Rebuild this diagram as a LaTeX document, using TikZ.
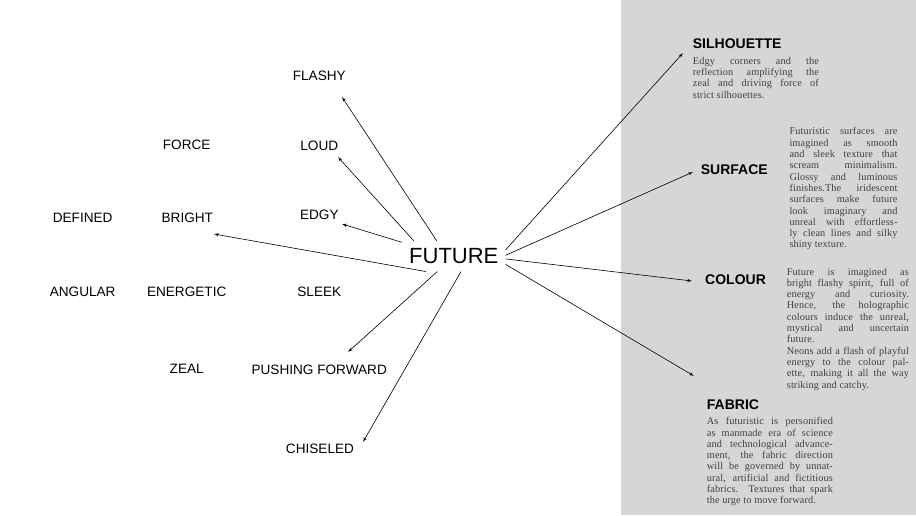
\documentclass[tikz,border=0pt]{standalone}
\usepackage{fontspec}
\setmainfont{Liberation Sans}
\newfontfamily\notefont[LetterSpace=1]{Liberation Serif}
\usetikzlibrary{arrows}
\definecolor{panelgray}{HTML}{D6D6D6}
\definecolor{notegray}{HTML}{404040}
\setlength{\parindent}{0pt}
\hyphenpenalty=10000
\tolerance=10000
\begin{document}
\begin{tikzpicture}[x=1pt,y=-1pt]
		\tikzset{word/.style = {font=\fontsize{13.6}{16}\selectfont}}
		\tikzset{head/.style = {font=\bfseries\fontsize{14}{16}\selectfont, anchor=west, inner sep=0pt}}
		\tikzset{note/.style = {font=\notefont\fontsize{10.3}{11.3}\selectfont, text=notegray, align=justify, anchor=north west, inner sep=0pt}}
		\tikzset{edge/.style = {->,> = latex', line width=0.6pt}}
		\useasboundingbox (0,0) rectangle (916,515);
		\fill[panelgray] (621,0) rectangle (916,515);
		% centre word
		\node[font=\fontsize{22}{26}\selectfont, inner xsep=7pt, inner ysep=7.5pt] (future) at (453.8,256.2) {FUTURE};
		% left words
		\node[word] (flashy) at (319.3,76) {FLASHY};
		\node[word] (loud) at (319.3,146) {LOUD};
		\node[word] (edgy) at (319.3,215) {EDGY};
		\node[word] (sleek) at (319.3,292.3) {SLEEK};
		\node[word] (pushing) at (319.2,370) {PUSHING FORWARD};
		\node[word] (chiseled) at (320,449.3) {CHISELED};
		\node[word] (force) at (186.7,145) {FORCE};
		\node[word] (bright) at (187.3,218.3) {BRIGHT};
		\node[word] (energetic) at (186.7,291.7) {ENERGETIC};
		\node[word] (zeal) at (186.7,369.3) {ZEAL};
		\node[word] (defined) at (82.7,218.3) {DEFINED};
		\node[word] (angular) at (82.7,291.7) {ANGULAR};
		% right headings
		\node[head] (silhouette) at (692.7,43.3) {SILHOUETTE};
		\node[head] (surface) at (700.7,170) {SURFACE};
		\node[head] (colour) at (705,280) {COLOUR};
		\node[head] (fabric) at (706.7,405) {FABRIC};
		% notes
		\node[note, text width=126pt] (silhouette-note) at (692.7,57) {Edgy corners and the\linebreak reflection amplifying the\linebreak zeal and driving force of\linebreak strict silhouettes.};
		\node[note, text width=108pt] (surface-note) at (789.3,127.5) {Futuristic surfaces are\linebreak imagined as smooth\linebreak and sleek texture that\linebreak scream minimalism.\linebreak Glossy and luminous\linebreak finishes.The iridescent\linebreak surfaces make future\linebreak look imaginary and\linebreak unreal with effortless-\linebreak ly clean lines and silky\linebreak shiny texture.};
		\node[note, text width=122pt] (colour-note) at (786.7,267.7) {Future is imagined as\linebreak bright flashy spirit, full of\linebreak energy and curiosity.\linebreak Hence, the holographic\linebreak colours induce the unreal,\linebreak mystical and uncertain\linebreak future.\par Neons add a flash of playful\linebreak energy to the colour pal-\linebreak ette, making it all the way\linebreak striking and catchy.};
		\node[note, text width=126pt] (fabric-note) at (706.7,417.3) {As futuristic is personified\linebreak as manmade era of science\linebreak and technological advance-\linebreak ment, the fabric direction\linebreak will be governed by unnat-\linebreak ural, artificial and fictitious\linebreak fabrics. Textures that spark\linebreak the urge to move forward.};
		% arrow ends
		\coordinate (flashy-end) at (342,97);
		\coordinate (loud-end) at (338,157);
		\coordinate (edgy-end) at (342,224);
		\coordinate (bright-end) at (214,234);
		\coordinate (pushing-end) at (348,352);
		\coordinate (chiseled-end) at (363,442);
		\coordinate (silhouette-end) at (683,53);
		\coordinate (surface-end) at (693,172);
		\coordinate (colour-end) at (692,281);
		\coordinate (fabric-end) at (694,376);
		% arrows
		\path[edge] (future.138) edge (flashy-end);
		\path[edge] (future.159) edge (loud-end);
		\path[edge] (future.165) edge (edgy-end);
		\path[edge] (future.209) edge (bright-end);
		\path[edge] (future.223) edge (pushing-end);
		\path[edge] (future.295) edge (chiseled-end);
		\path[edge] (future.7) edge (silhouette-end);
		\path[edge] (future.1) edge (surface-end);
		\path[edge] (future.357) edge (colour-end);
		\path[edge] (future.351) edge (fabric-end);
	\end{tikzpicture}
\end{document}
